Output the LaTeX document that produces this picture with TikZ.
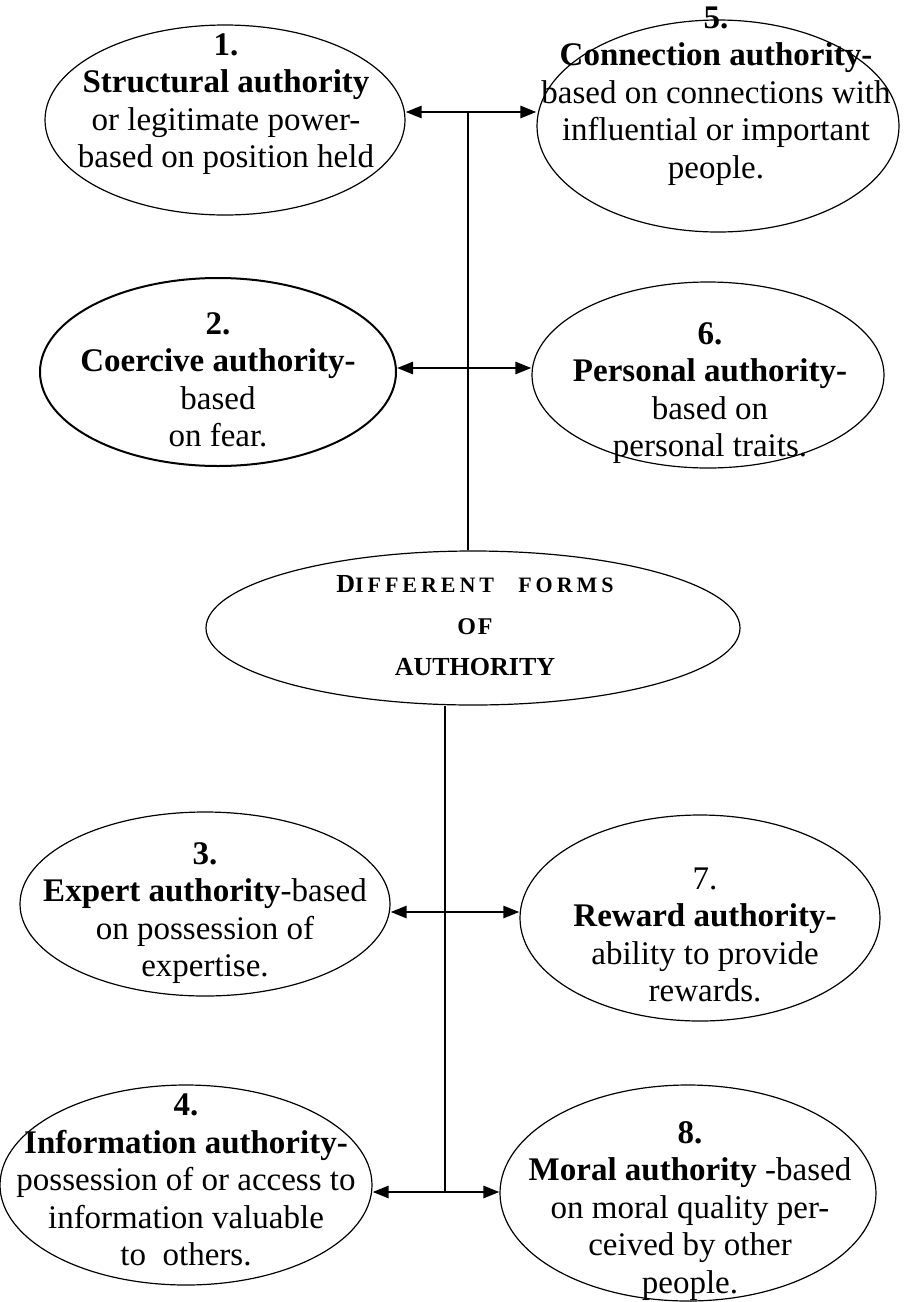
\documentclass[tikz,border=0pt]{standalone}
\usepackage{fontspec}
\setmainfont{Liberation Serif}
\newfontfamily\spacedfont[LetterSpace=18]{Liberation Serif}
\newfontfamily\ofont[LetterSpace=8]{Liberation Serif}
\usetikzlibrary{shapes.geometric,arrows.meta}

\begin{document}
\begin{tikzpicture}[x=0.5pt,y=-0.5pt,
  form/.style={draw,ellipse,line width=0.6pt,inner sep=0pt},
  esize/.style 2 args={minimum width=#1pt,minimum height=#2pt},
  txt/.style={align=center,inner sep=0pt,font=\fontsize{16.5}{18.75}\selectfont},
  link/.style={{Triangle[length=8pt,width=6pt]}-{Triangle[length=8pt,width=6pt]},line width=1.3pt},
  trunk/.style={line width=0.75pt}]
\useasboundingbox (0,0) rectangle (918,1302);

% ellipses
\node[form,esize={180}{95}] (e1) at (225,120) {};
\node[form,esize={181}{106}] (e5) at (718,126) {};
\node[form,esize={178}{94},line width=1pt] (e2) at (218,372) {};
\node[form,esize={176}{93}] (e6) at (708,375) {};
\node[form,esize={267}{77}] (c) at (473,628) {};
\node[form,esize={185}{92}] (e3) at (205,904) {};
\node[form,esize={180}{103}] (e7) at (700,918) {};
\node[form,esize={186}{100}] (e4) at (186,1185) {};
\node[form,esize={188}{108}] (e8) at (688,1193) {};

% texts
\node[txt] (t1) at (226,104) {\textbf{1.}\\ \textbf{Structural authority}\\ or legitimate power-\\ based on position held};
\node[txt] (t5) at (716,96) {\textbf{5.}\\ \textbf{Connection authority-}\\ based on connections with\\ influential or important\\ people.};
\node[txt] (t2) at (218,380) {\textbf{2.}\\ \textbf{Coercive authority-}\\ based\\ on fear.};
\node[txt] (t6) at (710,393) {\textbf{6.}\\ \textbf{Personal authority-}\\ based on\\ personal traits.};
\node[txt,font=\bfseries\fontsize{13}{20.7}\selectfont] (tc) at (475,626)
  {D{\spacedfont\fontsize{11}{20.7}\selectfont IFFERENT\hspace{1.1em}FORMS}\\
   {\ofont\fontsize{12}{20.7}\selectfont OF}\\ AUTHORITY};
\node[txt] (t3) at (205,913) {\textbf{3.}\\ \textbf{Expert authority}-based\\ on possession of\\ expertise.};
\node[txt] (t7) at (705,935) {7.\\ \textbf{Reward authority-}\\ ability to provide\\ rewards.};
\node[txt] (t4) at (186,1180) {\textbf{4.}\\ \textbf{Information authority-}\\ possession of or access to\\ information valuable\\ to\ \ others.};
\node[txt] (t8) at (690,1211) {\textbf{8.}\\ \textbf{Moral authority} -based\\ on moral quality per-\\ ceived by other\\ people.};

% connectors
\coordinate (j1) at (468,112);
\coordinate (j2) at (468,368);
\coordinate (j3) at (445,912);
\coordinate (j4) at (445,1192);
\draw[trunk] (c.north -| j1) -- (j1);
\draw[trunk] (c.south -| j4) -- (j4);
\draw[link] (e1.east |- j1) -- (e5.west |- j1);
\draw[link] (e2.east |- j2) -- (e6.west |- j2);
\draw[link] (e3.east |- j3) -- (e7.west |- j3);
\draw[link] (e4.east |- j4) -- (e8.west |- j4);
\end{tikzpicture}
\end{document}
